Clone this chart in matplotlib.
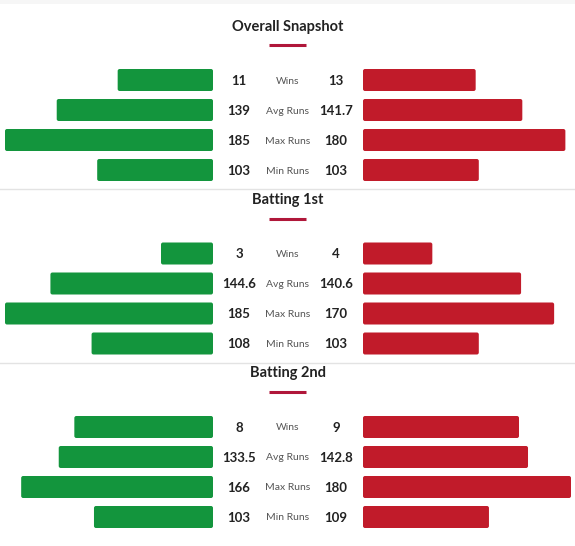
import matplotlib.pyplot as plt
from matplotlib.patches import FancyBboxPatch

# data
sections = ['Overall Snapshot', 'Batting 1st', 'Batting 2nd']
row_labels = ['Wins', 'Avg Runs', 'Max Runs', 'Min Runs']

team1 = [
    [11, 139, 185, 103],
    [3, 144.6, 185, 108],
    [8, 133.5, 166, 103],
]
team2 = [
    [13, 141.7, 180, 103],
    [4, 140.6, 170, 103],
    [9, 142.8, 180, 109],
]
# full bar length for wins / runs in each section
wins_scale = [24, 12, 12]
runs_scale = [185, 185, 180]

GREEN = '#13953d'
RED = '#c11b2a'
DARK = '#222222'
GREY = '#555555'

plt.rcParams['font.family'] = ['Lato', 'DejaVu Sans']

W, H = 575, 546
fig = plt.figure(figsize=(W / 100, H / 100), dpi=100)
fig.patch.set_facecolor('white')

# overlay in pixel units for titles, separators and numbers
ov = fig.add_axes([0, 0, 1, 1])
ov.set_xlim(0, W)
ov.set_ylim(H, 0)
ov.axis('off')
ov.axhspan(0, 4, color='#f6f6f6', lw=0)

def fmt(v):
    return str(int(v)) if float(v).is_integer() else str(v)

def rounded(ax, bars, px_w, color):
    # swap plain bars for slightly rounded ones
    for b in bars:
        x, y, w, h = b.get_x(), b.get_y(), b.get_width(), b.get_height()
        b.remove()
        ax.add_patch(FancyBboxPatch((x, y), w, h,
                                    boxstyle='round,pad=0,rounding_size=%f' % (2.0 / px_w),
                                    mutation_aspect=px_w / 30.0,
                                    fc=color, ec='none'))

pitch = 173.5
for s, name in enumerate(sections):
    off = s * pitch
    ov.text(W / 2, 25 + off, name, ha='center', va='center_baseline',
            fontsize=10.5, fontweight='bold', color=DARK)
    ov.plot([269, 306], [45 + off, 45 + off], color='#b0173a', lw=2.2,
            solid_capstyle='butt')
    if s > 0:
        ov.plot([0, W], [off + 15.5, off + 15.5], color='#e3e3e3', lw=1)

    scales = [wins_scale[s]] + [runs_scale[s]] * 3
    v1 = [v / sc for v, sc in zip(team1[s], scales)]
    v2 = [v / sc for v, sc in zip(team2[s], scales)]
    rows = list(range(len(row_labels)))

    top = 65 + off
    bottom = 1 - (top + 120) / H
    axl = fig.add_axes([5 / W, bottom, 208 / W, 120 / H])
    axr = fig.add_axes([363 / W, bottom, 208 / W, 120 / H])
    bl = axl.barh(rows, v1, height=22 / 30, color=GREEN)
    br = axr.barh(rows, v2, height=22 / 30, color=RED)
    axl.set_xlim(1, 0)
    axr.set_xlim(0, 1)
    for ax, bars, col in ((axl, bl, GREEN), (axr, br, RED)):
        ax.set_ylim(3.5, -0.5)
        ax.axis('off')
        rounded(ax, bars, 208, col)

    for i, lab in enumerate(row_labels):
        y = 80 + off + i * 30
        ov.text(239, y, fmt(team1[s][i]), ha='center', va='center_baseline',
                fontsize=9.5, fontweight='bold', color=DARK)
        ov.text(288, y, lab, ha='center', va='center_baseline', fontsize=7.5,
                color=GREY)
        ov.text(336, y, fmt(team2[s][i]), ha='center', va='center_baseline',
                fontsize=9.5, fontweight='bold', color=DARK)

fig.savefig('out.png', dpi=100)
